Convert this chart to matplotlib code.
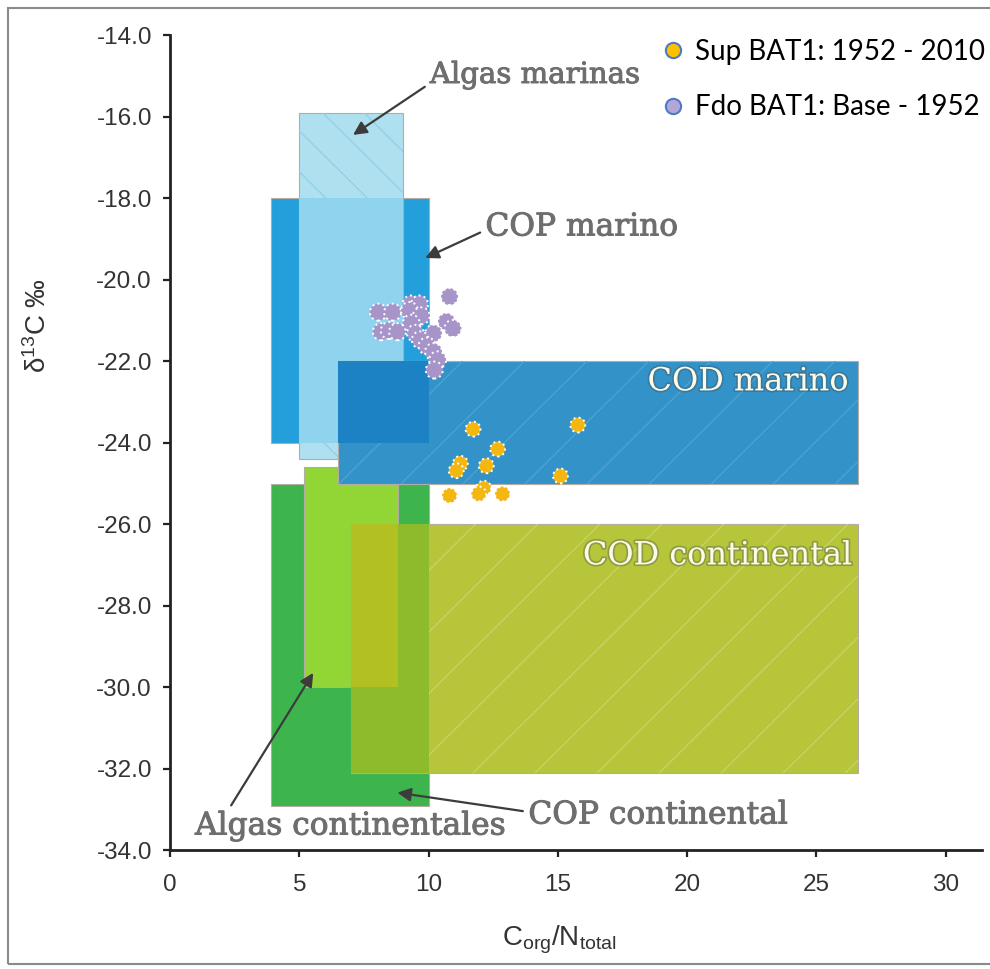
import numpy as np
import matplotlib
matplotlib.use('Agg')
import matplotlib.pyplot as plt
import matplotlib.patheffects as pe
from matplotlib.patches import Rectangle
from matplotlib.lines import Line2D

plt.rcParams['font.family'] = ['Liberation Sans', 'DejaVu Sans']
plt.rcParams['mathtext.default'] = 'regular'

# Campos de referencia (C/N vs d13C), en orden de dibujo
campos = ['COP continental', 'Algas continentales', 'COD continental',
          'COP marino', 'Algas marinas', 'COD marino']
cn_min = [3.9, 5.2, 7.0, 3.9, 5.0, 6.5]
cn_max = [10.0, 8.8, 26.6, 10.0, 9.0, 26.6]
d13c_min = [-32.9, -30.0, -32.1, -24.0, -24.4, -25.0]
d13c_max = [-25.0, -24.6, -26.0, -18.0, -15.9, -22.0]
colores = ['#3db54c', '#92d636', '#b6c53a', '#23a0dc', '#aee0f0', '#3393c9']

# zonas donde dos campos se solapan (indices en la lista de campos)
solapes = [(2, 0, '#8dbb2c'), (2, 1, '#b2c022'), (4, 3, '#8fd3ee'), (5, 3, '#1c82c4')]

# Muestras BAT1
sup_cn = [11.72, 15.77, 12.67, 11.23, 11.07, 12.23, 15.10, 12.13, 11.94, 10.81, 12.86]
sup_d13c = [-23.66, -23.56, -24.15, -24.50, -24.68, -24.56, -24.81, -25.11, -25.25, -25.29, -25.25]
fdo_cn = [10.81, 8.06, 8.61, 9.32, 9.65, 9.26, 9.72, 10.69, 10.94, 8.17,
          8.48, 8.80, 9.33, 9.49, 10.19, 9.68, 9.94, 10.19, 10.35, 10.22]
fdo_d13c = [-20.41, -20.79, -20.79, -20.59, -20.59, -20.75, -20.88, -21.02, -21.19, -21.27,
            -21.24, -21.27, -21.06, -21.31, -21.31, -21.47, -21.62, -21.76, -21.96, -22.21]

x_ticks = [0, 5, 10, 15, 20, 25, 30]
y_ticks = [-34, -32, -30, -28, -26, -24, -22, -20, -18, -16, -14]


def caja(i):
    return cn_min[i], cn_max[i], d13c_min[i], d13c_max[i]


def rayado(ax, patch, x0, x1, y0, y1, paso, pendiente, color):
    # lineas diagonales finas recortadas al rectangulo
    alto = y1 - y0
    dx = alto / pendiente
    if dx > 0:
        inicios = np.arange(x0 - dx, x1, paso)
    else:
        inicios = np.arange(x0, x1 - dx, paso)
    for xa in inicios:
        ln, = ax.plot([xa, xa + dx], [y0, y1], color=color, lw=0.9,
                      zorder=patch.get_zorder() + 0.01)
        ln.set_clip_path(patch)


fig = plt.figure(figsize=(9.9, 9.69), dpi=100)
ax = fig.add_axes([0.1717, 0.1223, 0.8202, 0.8411])

patches = []
for i, nombre in enumerate(campos):
    x0, x1, y0, y1 = caja(i)
    z = 1 + i * 0.2
    r = Rectangle((x0, y0), x1 - x0, y1 - y0, facecolor=colores[i],
                  edgecolor='#b4aca4', lw=0.8, zorder=z)
    ax.add_patch(r)
    patches.append(r)
    # solapes con campos ya dibujados
    for a, b, c in solapes:
        if a == i:
            ax0, ax1_, ay0, ay1 = caja(a)
            bx0, bx1, by0, by1 = caja(b)
            ox0, ox1 = max(ax0, bx0), min(ax1_, bx1)
            oy0, oy1 = max(ay0, by0), min(ay1, by1)
            if ox1 > ox0 and oy1 > oy0:
                ax.add_patch(Rectangle((ox0, oy0), ox1 - ox0, oy1 - oy0,
                                       facecolor=c, edgecolor='none', zorder=z + 0.05))

rayado(ax, patches[2], *caja(2), 2.4, 0.63, '#cad466')
rayado(ax, patches[5], *caja(5), 2.4, 0.63, '#4ea3d3')
rayado(ax, patches[4], *caja(4), 1.6, -0.63, '#92cfe4')

# muestras
ax.scatter(fdo_cn, fdo_d13c, s=150, color='#a795c9', edgecolors='white',
           linewidths=1.4, linestyles=':', zorder=5)
ax.scatter(sup_cn, sup_d13c, s=115, color='#f4b611', edgecolors='white',
           linewidths=1.4, linestyles=':', zorder=5)

# etiquetas de los campos
gris = dict(color='#6e6e6e', fontsize=22.5, family='DejaVu Serif', zorder=6,
            va='center', ha='left',
            path_effects=[pe.withStroke(linewidth=0.7, foreground='#6e6e6e')])


def flecha(rx, ry):
    return dict(arrowstyle='-|>', color='#3c3c3c', lw=1.6, mutation_scale=20,
                relpos=(rx, ry), shrinkA=2, shrinkB=0)


ax.annotate('Algas marinas', xy=(7.08, -16.44), xytext=(10.05, -14.97),
            arrowprops=flecha(0.0, 0.2), **{**gris, 'fontsize': 21})
ax.annotate('COP marino', xy=(9.87, -19.46), xytext=(12.2, -18.70),
            arrowprops=flecha(0.0, 0.4), **gris)
ax.annotate('Algas continentales', xy=(5.54, -29.64), xytext=(0.97, -33.40),
            arrowprops=flecha(0.1, 0.9), **gris)
ax.annotate('COP continental', xy=(8.79, -32.58), xytext=(13.86, -33.13),
            arrowprops=flecha(0.0, 0.6), **gris)

blanco = dict(color='#fbfbea', fontsize=23, family='DejaVu Serif', zorder=6,
              ha='right', va='center',
              path_effects=[pe.withStroke(linewidth=2.5, foreground='#4a4a4a', alpha=0.35)])
ax.text(26.25, -22.50, 'COD marino', **blanco)
ax.text(26.4, -26.77, 'COD continental', **blanco)

# ejes
ax.set_xlim(0, 31.4)
ax.set_ylim(-34, -14)
ax.set_xticks(x_ticks)
ax.set_yticks(y_ticks)
ax.set_yticklabels(['%.1f' % v for v in y_ticks])
for s in ['top', 'right']:
    ax.spines[s].set_visible(False)
for s in ['left', 'bottom']:
    ax.spines[s].set_linewidth(2)
    ax.spines[s].set_color('#222222')
ax.tick_params(direction='out', length=5, width=1.6, colors='#222222',
               labelsize=17.5, labelcolor='#333333', pad=8)
ax.tick_params(axis='x', pad=12)
ax.set_facecolor('none')

ax.set_xlabel('C$_{org}$/N$_{total}$', fontsize=20, color='#333333')
ax.xaxis.set_label_coords(0.48, -0.09)
ax.set_ylabel('δ$^{13}$C ‰', fontsize=20, color='#333333')
ax.yaxis.set_label_coords(-0.145, 0.644)

# leyenda
h_sup = Line2D([], [], ls='none', marker='o', ms=11, mfc='#ffc000',
               mec='#4a7bc8', mew=1.5)
h_fdo = Line2D([], [], ls='none', marker='o', ms=11, mfc='#b4a7d6',
               mec='#4a7bc8', mew=1.5)
fig.legend([h_sup, h_fdo], ['Sup BAT1: 1952 - 2010', 'Fdo BAT1: Base - 1952'],
           loc='upper left', bbox_to_anchor=(0.6687, 0.960), frameon=False,
           prop={'family': 'Lato', 'size': 20}, handlelength=0.8,
           handletextpad=0.4, borderpad=0, borderaxespad=0, labelspacing=1.07)

# marco de la figura
fig.patches.append(Rectangle((8 / 990, 5 / 969), 1.1, 1 - 13 / 969,
                             transform=fig.transFigure, fill=False,
                             edgecolor='#8a8a8a', lw=1.5))

fig.savefig('out.png', dpi=100)
